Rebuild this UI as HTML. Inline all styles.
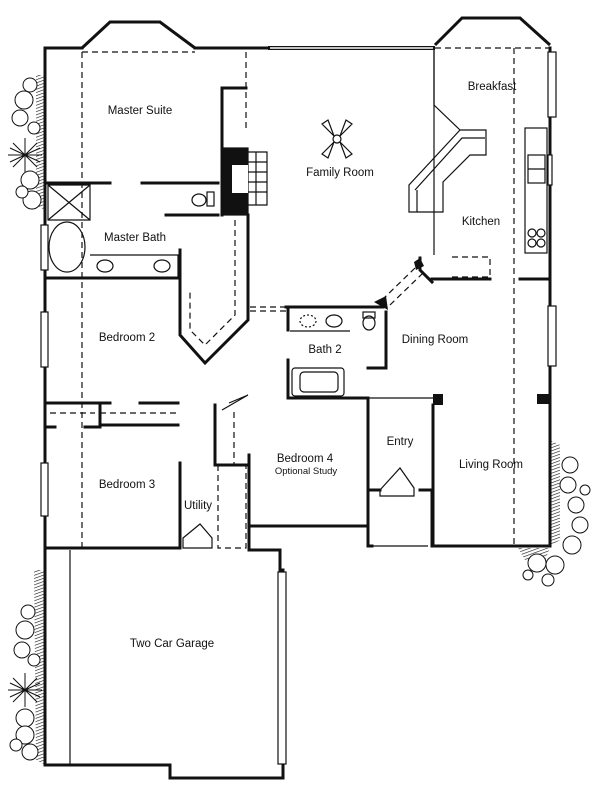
<!DOCTYPE html>
<html><head><meta charset="utf-8"><style>
html,body{margin:0;padding:0;background:#fff;}
svg{display:block}
text{font-family:"Liberation Sans",sans-serif;font-size:11.5px;fill:#111;text-anchor:middle}
</style></head><body>
<svg width="600" height="787" viewBox="0 0 600 787" xmlns="http://www.w3.org/2000/svg">
<defs>
<pattern id="hat" width="3" height="3" patternUnits="userSpaceOnUse" patternTransform="rotate(70)">
<line x1="0" y1="0" x2="0" y2="3" stroke="#111" stroke-width="1.2"/>
</pattern>
</defs>
<!-- plant hatching -->
<path d="M36 75 L45 75 L45 210 L36 205 Z" fill="url(#hat)"/>
<path d="M34 570 L45 570 L45 765 L36 760 Z" fill="url(#hat)"/>
<path d="M550 440 L560 445 L560 540 L550 546 Z" fill="url(#hat)"/>
<path d="M518 548 L550 548 L545 560 L525 560 Z" fill="url(#hat)"/>
<g fill="none" stroke="#111" stroke-width="1.2">
<!-- plants -->
<g stroke-width="1" fill="#fff">
<circle cx="24" cy="100" r="9"/><circle cx="20" cy="118" r="8"/><circle cx="30" cy="85" r="7"/><circle cx="34" cy="128" r="6"/>
<circle cx="30" cy="180" r="9"/><circle cx="32" cy="200" r="9"/><circle cx="22" cy="192" r="6"/>
<circle cx="25" cy="630" r="9"/><circle cx="22" cy="650" r="8"/><circle cx="28" cy="612" r="7"/><circle cx="34" cy="660" r="6"/>
<circle cx="25" cy="718" r="9"/><circle cx="25" cy="735" r="9"/><circle cx="30" cy="752" r="8"/><circle cx="16" cy="745" r="6"/>
<circle cx="570" cy="465" r="8"/><circle cx="568" cy="485" r="8"/><circle cx="576" cy="505" r="8"/><circle cx="580" cy="525" r="8"/>
<circle cx="572" cy="545" r="9"/><circle cx="555" cy="565" r="9"/><circle cx="537" cy="563" r="9"/><circle cx="548" cy="580" r="6"/><circle cx="585" cy="490" r="5"/><circle cx="528" cy="575" r="5"/>
</g>
<path d="M8 155 L42 155 M25 138 L25 172 M13 143 L37 167 M37 143 L13 167 M10 148 L40 162 M10 162 L40 148" stroke-width="1"/>
<path d="M8 690 L42 690 M25 673 L25 707 M13 678 L37 702 M37 678 L13 702 M10 683 L40 697 M10 697 L40 683" stroke-width="1"/>
<path d="M575 300 Z"/>
<g stroke-width="3" stroke-linecap="square">
<!-- outer -->
<path d="M82 48 L45 48 L45 765 L170 765 L170 778 L283 778 L283 570"/>
<path d="M195 48 L268 48"/>
<path d="M550 48 L550 546 L433 546"/>
<!-- master suite -->
<path d="M45 183 L110 183 M142 183 L218 183"/>
<path d="M222 88 L222 215 M222 88 L246 88"/>
<path d="M166 215 L218 215"/>
<path d="M45 278 L180 278"/>
<path d="M180 250 L180 335 L205 363 L248 320 L248 215"/>
<!-- bed2/bed3 -->
<path d="M45 403 L110 403 M140 403 L178 403 M100 403 L100 425 M100 425 L178 425 M45 427 L55 427 M85 427 L100 427"/>
<path d="M180 463 L180 548 L45 548"/>
<!-- utility -->
<path d="M215 405 L215 465 L249 465"/>
<path d="M249 455 L249 550 L280 550 L280 570"/>
<path d="M249 526 L368 526"/>
<!-- bath2 -->
<path d="M286 307 L383 307 M386 312 L386 368 M368 368 L386 368"/>
<path d="M288 307 L288 330 M288 360 L288 398 L368 398 M368 398 L368 490 M368 490 L380 490 M420 490 L432 490 L432 546 M368 490 L368 546 L372 546"/>
<path d="M433 405 L433 546"/>
<!-- kitchen -->
<path d="M432 279 L490 279 M520 279 L550 279"/>
<path d="M420 258 L420 270 L432 282"/>
</g>
<!-- windows -->
<g stroke-width="1.2">
<path d="M82 48 L110 22 L160 22 L195 48" stroke-width="3"/>
<path d="M268 48 L435 48" stroke-width="4"/><path d="M270 48 L433 48" stroke="#fff" stroke-width="1.5"/>
<path d="M435 45 L462 18 L520 18 L550 45" stroke-width="3"/>
<rect x="41" y="225" width="7" height="45" fill="#fff"/>
<rect x="41" y="312" width="7" height="55" fill="#fff"/>
<rect x="41" y="463" width="7" height="53" fill="#fff"/>
<rect x="548" y="52" width="8" height="65" fill="#fff"/>
<rect x="548" y="306" width="8" height="60" fill="#fff"/>
<rect x="548" y="155" width="4" height="30" fill="#fff"/>
<rect x="278" y="572" width="8" height="192" fill="#fff"/>
<line x1="70" y1="550" x2="70" y2="765"/>
</g>
<!-- dashed lines -->
<g stroke-dasharray="6,4" stroke-width="1.2">
<path d="M82 52 L195 52 M82 52 L82 548"/>
<path d="M246 52 L246 130"/>
<path d="M235 220 L235 315 L205 345 L190 330 L190 290"/>
<path d="M514 48 L514 546"/>
<path d="M435 48 L550 48"/>
<path d="M250 307 L286 307 M250 311 L286 311"/>
<path d="M382 300 L415 268 M390 305 L423 273"/>
<path d="M234 412 L234 465"/>
<path d="M218 465 L218 548 L246 548 L246 465"/>
<path d="M452 257 L490 257 L490 277 L452 277"/>
<path d="M50 413 L95 413 M100 413 L178 413"/>
</g>
<!-- fireplace -->
<rect x="222" y="148" width="26" height="67" fill="#111"/>
<rect x="232" y="165" width="16" height="28" fill="#fff" stroke="none"/>
<path d="M248 152 L267 152 L267 205 L248 205 M248 162 L267 162 M248 172 L267 172 M248 182 L267 182 M248 192 L267 192 M256 152 L256 205"/>
<!-- master bath fixtures -->
<path d="M48 185 L90 185 L90 220 L48 220 Z M48 185 L90 220 M90 185 L48 220"/>
<ellipse cx="67" cy="247" rx="18" ry="25"/>
<path d="M90 255 L178 255 L178 278"/>
<ellipse cx="105" cy="266" rx="8" ry="6"/><ellipse cx="162" cy="266" rx="8" ry="6"/>
<ellipse cx="199" cy="200" rx="7" ry="6"/><rect x="207" y="192" width="7" height="14"/>
<!-- bath2 fixtures -->
<ellipse cx="308" cy="321" rx="8" ry="6" stroke-dasharray="2,2"/><ellipse cx="334" cy="321" rx="8" ry="6"/>
<path d="M290 331 L350 331"/>
<rect x="292" y="368" width="52" height="28" rx="3"/><rect x="300" y="372" width="38" height="20" rx="4"/>
<ellipse cx="369" cy="323" rx="6" ry="7"/><rect x="363" y="312" width="12" height="6"/>
<!-- fan -->
<circle cx="337" cy="139" r="4"/>
<path d="M334 136 L322 124 L328 120 Z M340 136 L352 124 L346 120 Z M334 142 L322 154 L328 158 Z M340 142 L352 154 L346 158 Z"/>
<!-- kitchen peninsula -->
<path d="M434 50 L434 105 L460 130 M460 130 L486 130 L486 155 L470 155 L443 182 L443 212 L409 212 L409 185 L460 130"/>
<path d="M415 190 L462 138 L485 138 M417 190 L417 212"/>
<path d="M434 50 L434 255"/>
<rect x="525" y="128" width="22" height="125"/>
<rect x="528" y="155" width="17" height="28"/><line x1="528" y1="169" x2="545" y2="169"/>
<circle cx="532" cy="233" r="4"/><circle cx="541" cy="233" r="4"/><circle cx="532" cy="243" r="4"/><circle cx="541" cy="243" r="4"/>
<!-- entry -->
<path d="M368 398 L433 398"/>
<path d="M380 490 L400 468 L414 488 L414 496 L380 496 Z"/>
<path d="M372 546 L428 546"/>
<path d="M183 538 L200 524 L212 538 L212 548 L183 548 Z"/>
<path d="M229 403 L248 395 M222 410 L248 395"/>
</g>
<rect x="433" y="394" width="10" height="11" fill="#111"/>
<rect x="537" y="394" width="12" height="10" fill="#111"/>
<path d="M374 302 L386 296 L388 310 Z" fill="#111"/>
<path d="M414 262 L420 258 L424 266 L416 270 Z" fill="#111"/>
<text x="140" y="114">Master Suite</text>
<text x="340" y="176">Family Room</text>
<text x="492" y="90">Breakfast</text>
<text x="481" y="225">Kitchen</text>
<text x="135" y="241">Master Bath</text>
<text x="127" y="341">Bedroom 2</text>
<text x="435" y="343">Dining Room</text>
<text x="325" y="353">Bath 2</text>
<text x="400" y="445">Entry</text>
<text x="491" y="468">Living Room</text>
<text x="305" y="462">Bedroom 4</text>
<text x="306" y="474" style="font-size:9.5px">Optional Study</text>
<text x="127" y="488">Bedroom 3</text>
<text x="198" y="509">Utility</text>
<text x="172" y="647">Two Car Garage</text>
</svg>
</body></html>
